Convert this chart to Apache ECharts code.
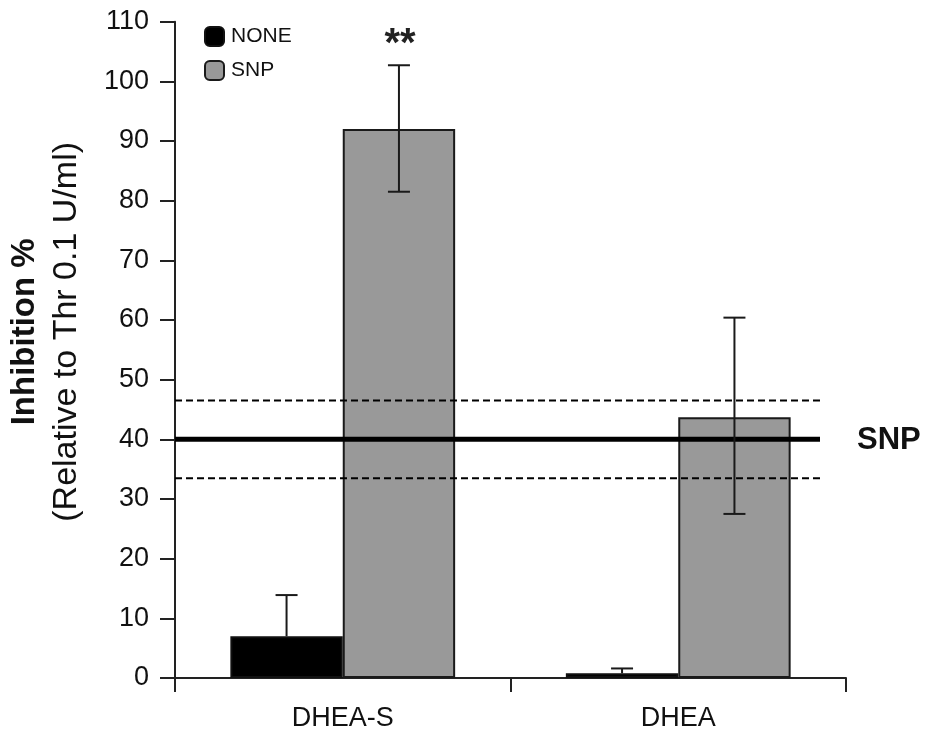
<!DOCTYPE html>
<html>
<head>
<meta charset="utf-8">
<script src="https://cdn.jsdelivr.net/npm/echarts@6/dist/echarts.min.js"></script>
<style>
html,body{margin:0;padding:0;background:#fff;}
#chart{width:926px;height:733px;}
</style>
</head>
<body>
<div id="chart"></div>
<script>
// ---- data ----
const categories = ['DHEA-S', 'DHEA'];
const seriesNames = ['NONE', 'SNP'];
const noneValues = [7.0, 0.8];
const noneErrLow = [7.0, 0.8];     // one-sided (upper only)
const noneErrHigh = [13.9, 1.6];
const snpValues = [92.0, 43.7];
const snpErrLow = [81.5, 27.5];
const snpErrHigh = [102.7, 60.4];
const significance = ['**', ''];
const refLineValues = [40, 46.5, 33.5]; // SNP mean, upper, lower
const refLineLabel = 'SNP';
const yMin = 0, yMax = 110, yInterval = 10;
const yTitle = 'Inhibition %';
const ySubTitle = '(Relative to Thr 0.1 U/ml)';

const FONT = 'Arial, "Liberation Sans", sans-serif';
const BAR_FRACTION = 0.335;

function errData(vals, lows, highs) {
  return vals.map((v, i) => [i, lows[i], highs[i], v]);
}

function makeErrRender(offsetSign, labels) {
  return function (params, api) {
    const idx = api.value(0);
    const low = api.value(1), high = api.value(2), val = api.value(3);
    const band = api.size([1, 0])[0];
    const barW = band * BAR_FRACTION;
    const cx = api.coord([idx, 0])[0] + offsetSign * barW / 2;
    const yLow = api.coord([idx, low])[1];
    const yHigh = api.coord([idx, high])[1];
    const cap = 11;
    const style = { stroke: '#1a1a1a', lineWidth: 2 };
    const children = [
      { type: 'line', shape: { x1: cx, y1: yLow, x2: cx, y2: yHigh }, style: style },
      { type: 'line', shape: { x1: cx - cap, y1: yHigh, x2: cx + cap, y2: yHigh }, style: style }
    ];
    if (low < val) {
      children.push({ type: 'line', shape: { x1: cx - cap, y1: yLow, x2: cx + cap, y2: yLow }, style: style });
    }
    const lab = labels ? labels[params.dataIndex] : '';
    if (lab) {
      children.push({
        type: 'text',
        style: { text: lab, x: cx + 1, y: yHigh - 20, align: 'center', verticalAlign: 'middle',
                 font: 'bold 40px ' + FONT, fill: '#222' }
      });
    }
    return { type: 'group', children: children };
  };
}

const chart = echarts.init(document.getElementById('chart'), null, { renderer: 'canvas' });

const option = {
  animation: false,
  backgroundColor: '#ffffff',
  textStyle: { fontFamily: FONT },
  grid: { left: 175, right: 80, top: 21.7, bottom: 55, containLabel: false, outerBoundsMode: 'none' },
  legend: {
    orient: 'vertical',
    left: 199,
    top: 21,
    itemWidth: 19,
    itemHeight: 19,
    itemGap: 13,
    icon: 'roundRect',
    data: seriesNames,
    textStyle: { fontSize: 21, color: '#111', fontFamily: FONT, padding: [0, 0, 0, 2] }
  },
  xAxis: {
    type: 'category',
    data: categories,
    axisLine: { lineStyle: { color: '#222', width: 2 } },
    axisTick: { show: true, length: 14, lineStyle: { color: '#222', width: 2 } },
    axisLabel: { fontSize: 27, color: '#111', margin: 27, fontFamily: FONT }
  },
  yAxis: {
    type: 'value',
    min: yMin, max: yMax, interval: yInterval,
    splitLine: { show: false },
    axisLine: { show: true, lineStyle: { color: '#222', width: 2 } },
    axisTick: { show: true, length: 15, lineStyle: { color: '#222', width: 2 } },
    axisLabel: { fontSize: 27, color: '#111', margin: 26, fontFamily: FONT },
    name: '{a|' + yTitle + '}\n{b|' + ySubTitle + '}',
    nameLocation: 'middle',
    nameRotate: 90,
    nameGap: 87,
    nameTextStyle: {
      padding: [0, 0, 0, 36],
      rich: {
        a: { fontSize: 33, fontWeight: 'bold', color: '#111', lineHeight: 42, fontFamily: FONT },
        b: { fontSize: 34, color: '#111', lineHeight: 42, fontFamily: FONT }
      }
    }
  },
  series: [
    {
      name: seriesNames[0],
      type: 'bar',
      data: noneValues,
      barGap: '0%',
      barCategoryGap: '33%',
      itemStyle: { color: '#000000', borderColor: '#111', borderWidth: 2 },
      z: 2
    },
    {
      name: seriesNames[1],
      type: 'bar',
      data: snpValues,
      barGap: '0%',
      barCategoryGap: '33%',
      itemStyle: { color: '#999999', borderColor: '#1a1a1a', borderWidth: 2 },
      z: 2
    },
    {
      type: 'custom',
      name: 'refLines',
      data: refLineValues.map(v => [0, v]),
      silent: true,
      z: 4,
      renderItem: function (params, api) {
        const cs = params.coordSys;
        const y = api.coord([0, api.value(1)])[1];
        const x1 = cs.x;
        const x2 = cs.x + cs.width - 26;
        const isMain = params.dataIndex === 0;
        const children = [{
          type: 'line',
          shape: { x1: x1, y1: y, x2: x2, y2: y },
          style: isMain ? { stroke: '#000', lineWidth: 5 }
                        : { stroke: '#000', lineWidth: 2, lineDash: [7, 4] }
        }];
        if (isMain) {
          children.push({
            type: 'text',
            style: { text: refLineLabel, x: x2 + 37, y: y + 1, align: 'left', verticalAlign: 'middle',
                     font: 'bold 31px ' + FONT, fill: '#111' }
          });
        }
        return { type: 'group', children: children };
      }
    },
    {
      type: 'custom',
      name: 'errNONE',
      data: errData(noneValues, noneErrLow, noneErrHigh),
      silent: true,
      z: 5,
      renderItem: makeErrRender(-1, null)
    },
    {
      type: 'custom',
      name: 'errSNP',
      data: errData(snpValues, snpErrLow, snpErrHigh),
      silent: true,
      z: 5,
      renderItem: makeErrRender(1, significance)
    }
  ]
};

chart.setOption(option);
</script>
</body>
</html>
